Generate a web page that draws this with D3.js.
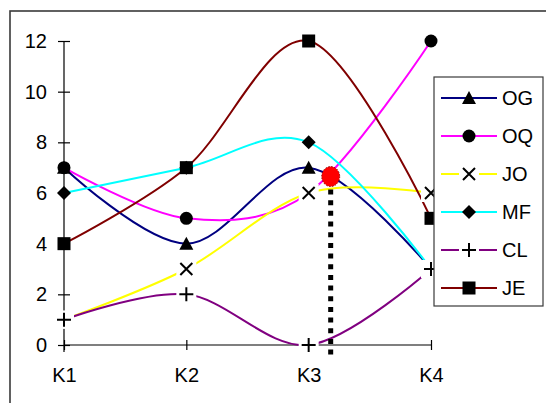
<!DOCTYPE html>
<html><head><meta charset="utf-8">
<script src="https://cdn.jsdelivr.net/npm/d3@7"></script>
<style>html,body{margin:0;padding:0;background:#fff;}svg{display:block;font-family:"Liberation Sans",Arial,sans-serif;}
.ax text{font-size:20px !important;font-family:"Liberation Sans",Arial,sans-serif !important;fill:#000;}</style>
</head><body>
<svg id="c" width="546" height="403"></svg>
<script>
const categories = ["K1", "K2", "K3", "K4"];
const OG = [7, 4, 7, 3];
const OQ = [7, 5, 6, 12];
const JO = [1, 3, 6, 6];
const MF = [6, 7, 8, 3];
const CL = [1, 2, 0, 3];
const JE = [4, 7, 12, 5];
const seriesNames = ["OG", "OQ", "JO", "MF", "CL", "JE"];
const seriesColors = ["#000080", "#FF00FF", "#FFFF00", "#00FFFF", "#800080", "#800000"];
const seriesMarkers = ["triangle", "circle", "x", "diamond", "plus", "square"];
const yTicks = [0, 2, 4, 6, 8, 10, 12];
// highlighted (dragged) point of OQ at K3
const highlight = { series: "OQ", index: 2, pos: 2.18, value: 6.65, dropTo: -0.45 };

const values = [OG, OQ, JO, MF, CL, JE];
const series = seriesNames.map((n, i) => ({ name: n, color: seriesColors[i], marker: seriesMarkers[i], values: values[i] }));

const svg = d3.select("#c");
const x = d3.scalePoint().domain(categories).range([64, 431]);
const xPos = d3.scaleLinear().domain([0, categories.length - 1]).range([64, 431]);
const y = d3.scaleLinear().domain([0, 12]).range([345, 41]);

// outer frame
svg.append("rect").attr("x", 10).attr("y", 11).attr("width", 600).attr("height", 500)
  .attr("fill", "none").attr("stroke", "#3a3a3a").attr("stroke-width", 1.6);

// axes
const yAxis = svg.append("g").attr("class", "ax").attr("transform", "translate(64,0)")
  .call(d3.axisLeft(y).tickValues(yTicks).tickSizeInner(6).tickSizeOuter(0).tickPadding(11));
yAxis.attr("font-size", null).attr("font-family", null);
yAxis.select(".domain").attr("d", `M0,${y(12)}V${y(0) + 7}`).attr("stroke", "#000").attr("stroke-width", 1.2);
yAxis.selectAll(".tick line").attr("x1", -6).attr("x2", 6).attr("stroke", "#000").attr("stroke-width", 1.2);

const xAxis = svg.append("g").attr("class", "ax").attr("transform", `translate(0,${y(0)})`)
  .call(d3.axisBottom(x).tickSizeInner(5).tickSizeOuter(0).tickPadding(18));
xAxis.attr("font-size", null).attr("font-family", null);
xAxis.select(".domain").attr("d", `M${x("K1")},0H${x("K4")}`).attr("stroke", "#000").attr("stroke-width", 1.2);
xAxis.selectAll(".tick line").attr("y1", -5).attr("y2", 5).attr("stroke", "#000").attr("stroke-width", 1.2);

// lines
const line = d3.line().x((d, i) => x(categories[i])).y(d => y(d)).curve(d3.curveCardinal.tension(0));
series.forEach(s => {
  svg.append("path").attr("d", line(s.values)).attr("fill", "none")
    .attr("stroke", s.color).attr("stroke-width", 2);
});

// marker drawer
function drawMarker(g, type, cx, cy) {
  if (type === "triangle") {
    g.append("path").attr("d", `M${cx},${cy - 7}L${cx + 7},${cy + 6}L${cx - 7},${cy + 6}Z`).attr("fill", "#000");
  } else if (type === "circle") {
    g.append("circle").attr("cx", cx).attr("cy", cy).attr("r", 6.5).attr("fill", "#000");
  } else if (type === "diamond") {
    g.append("path").attr("d", `M${cx},${cy - 7}L${cx + 7},${cy}L${cx},${cy + 7}L${cx - 7},${cy}Z`).attr("fill", "#000");
  } else if (type === "square") {
    g.append("rect").attr("x", cx - 6.5).attr("y", cy - 6.5).attr("width", 13).attr("height", 13).attr("fill", "#000");
  } else if (type === "x") {
    g.append("rect").attr("x", cx - 10).attr("y", cy - 9).attr("width", 20).attr("height", 18).attr("fill", "#fff");
    g.append("path").attr("d", `M${cx - 6},${cy - 6}L${cx + 6},${cy + 6}M${cx + 6},${cy - 6}L${cx - 6},${cy + 6}`)
      .attr("stroke", "#000").attr("stroke-width", 2);
  } else if (type === "plus") {
    g.append("rect").attr("x", cx - 10).attr("y", cy - 9).attr("width", 20).attr("height", 18).attr("fill", "#fff");
    g.append("path").attr("d", `M${cx - 7},${cy}H${cx + 7}M${cx},${cy - 7}V${cy + 7}`)
      .attr("stroke", "#000").attr("stroke-width", 2);
  }
}

// markers
const mg = svg.append("g");
series.forEach(s => {
  s.values.forEach((v, i) => {
    if (s.name === highlight.series && i === highlight.index) return;
    drawMarker(mg, s.marker, x(categories[i]), y(v));
  });
});

// highlight: dotted drop line + red point
const hx = xPos(highlight.pos), hy = y(highlight.value);
svg.append("line").attr("x1", hx).attr("x2", hx).attr("y1", hy + 13).attr("y2", y(highlight.dropTo))
  .attr("stroke", "#000").attr("stroke-width", 5).attr("stroke-dasharray", "5 5.67");
svg.append("ellipse").attr("cx", hx).attr("cy", hy).attr("rx", 9).attr("ry", 10)
  .attr("fill", "#ff0000").attr("stroke", "#8a0000").attr("stroke-width", 1).attr("stroke-dasharray", "1.5 1.5");

// legend
const lg = svg.append("g");
lg.append("rect").attr("x", 434).attr("y", 77).attr("width", 109).attr("height", 229)
  .attr("fill", "#fff").attr("stroke", "#3a3a3a").attr("stroke-width", 1.2);
series.forEach((s, i) => {
  const ly = 98 + i * 38;
  lg.append("line").attr("x1", 441).attr("x2", 497).attr("y1", ly).attr("y2", ly)
    .attr("stroke", s.color).attr("stroke-width", 2);
  drawMarker(lg, s.marker, 469, ly);
  lg.append("text").attr("x", 502).attr("y", ly + 7).style("font-size", "20px").attr("fill", "#000").text(s.name);
});
</script>
</body></html>
